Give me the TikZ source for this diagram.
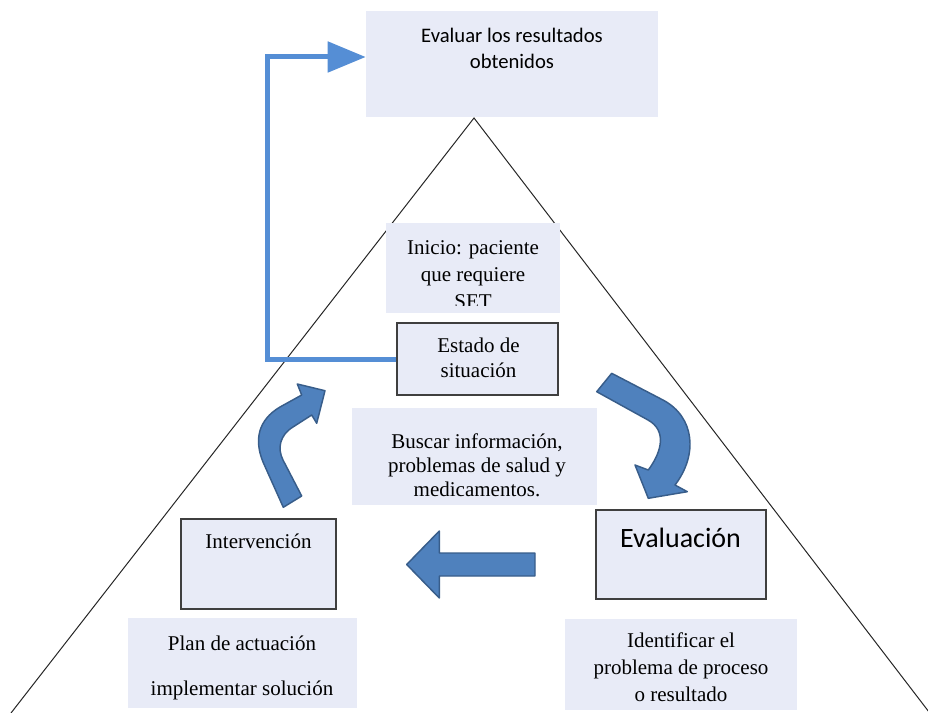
\documentclass[tikz,border=0pt]{standalone}
\usepackage{fontspec}
\setmainfont{Liberation Serif}
\newfontfamily\calibri{Carlito}
\usetikzlibrary{arrows.meta,fit}
\definecolor{lavender}{HTML}{E8EBF7}
\definecolor{frameline}{HTML}{3F3F3F}
\definecolor{flow}{HTML}{558ED5}
\definecolor{blockfill}{HTML}{4F81BD}
\definecolor{blockline}{HTML}{385D8A}

\begin{document}
\begin{tikzpicture}[x=0.75pt,y=-0.75pt,
  panel/.style={fill=lavender,inner sep=0pt},
  framed/.style={panel,draw=frameline,line width=1.1pt},
  serif/.style={align=center,inner sep=0pt,font=\fontsize{15.75}{20.25}\selectfont},
  sans/.style={align=center,inner sep=0pt,font=\calibri\fontsize{15.5}{19.2}\selectfont},
  blockarrow/.style={fill=blockfill,draw=blockline,line width=1.1pt,line join=round},
  ridge/.style={draw=black!85,line width=0.75pt},
  flowline/.style={draw=flow,line width=3.75pt,-{Triangle[length=28.5pt,width=22.5pt]}}]
  \useasboundingbox (0,0) rectangle (928,713);
  % sides of the pyramid
  \coordinate (apex) at (474,118);
  \coordinate (footL) at (11,713);
  \coordinate (footR) at (929,712);
  \draw[ridge] (footL) -- (apex) -- (footR);

  % boxes
  \node[panel,fit={(366,11) (658,117)}] (evaluar) {};
  \node[panel,fit={(386,223) (560,313)}] (inicio) {};
  \node[framed,fit={(397,323) (558,395)}] (estado) {};
  \node[panel,fit={(352,408) (597,505)}] (buscar) {};
  \node[framed,fit={(181,519) (336,609)}] (intervencion) {};
  \node[framed,fit={(596,510) (766,599)}] (evaluacion) {};
  \node[panel,fit={(128,618) (357,708)}] (plan) {};
  \node[panel,fit={(565,619) (797,710)}] (identificar) {};

  % texts
  \node[sans] (evaluar-txt) at (512,48.5) {Evaluar los resultados\\obtenidos};
  \begin{scope}
    \clip ([yshift=6pt]inicio.south west) rectangle (inicio.north east);
    \node[serif] (inicio-txt) at (473,275) {Inicio: paciente\\que requiere\\SET};
  \end{scope}
  \node[serif,font=\fontsize{15.75}{18.75}\selectfont] (estado-txt) at (478.5,358.2) {Estado de\\situación};
  \node[serif,font=\fontsize{15.75}{18}\selectfont] (buscar-txt) at (477,465) {Buscar información,\\problemas de salud y\\medicamentos.};
  \node[serif] (intervencion-txt) at (258.5,540.8) {Intervención};
  \node[sans,font=\calibri\fontsize{21}{25}\selectfont] (evaluacion-txt) at (680.5,538.3) {Evaluación};
  \node[serif,font=\fontsize{15.75}{33.75}\selectfont] (plan-txt) at (242,668) {Plan de actuación\\implementar solución};
  \node[serif] (identificar-txt) at (681,667) {Identificar el\\problema de proceso\\o resultado};

  % feedback line to the top box
  \coordinate (bend) at (267,359);
  \draw[flowline] (estado.west) -- (bend) |- ([yshift=5.25pt]evaluar.west);

  % block arrows of the cycle
  \draw[blockarrow] (611.7,373.3) -- (663,400) .. controls (695,417) and (698,455) .. (675,485)
    -- (687.3,491.7) -- (648.3,498.3) -- (635,465) -- (648.3,470)
    .. controls (663,450) and (666,430) .. (648,420) -- (596.7,391.7) -- cycle;
  \draw[blockarrow] (535,553) -- (439.3,553) -- (439.3,531) -- (406.7,564.5)
    -- (439.3,598) -- (439.3,576) -- (535,576) -- cycle;
  \draw[blockarrow] (283.3,507.3) -- (263,462) .. controls (254,440) and (258,420) .. (280,407)
    -- (301.7,395) -- (297.3,384) -- (325,390.7) -- (316.7,423.3) -- (311.7,415)
    -- (293,427) .. controls (280,435) and (277,448) .. (283,460) -- (301.7,496) -- cycle;
\end{tikzpicture}
\end{document}
